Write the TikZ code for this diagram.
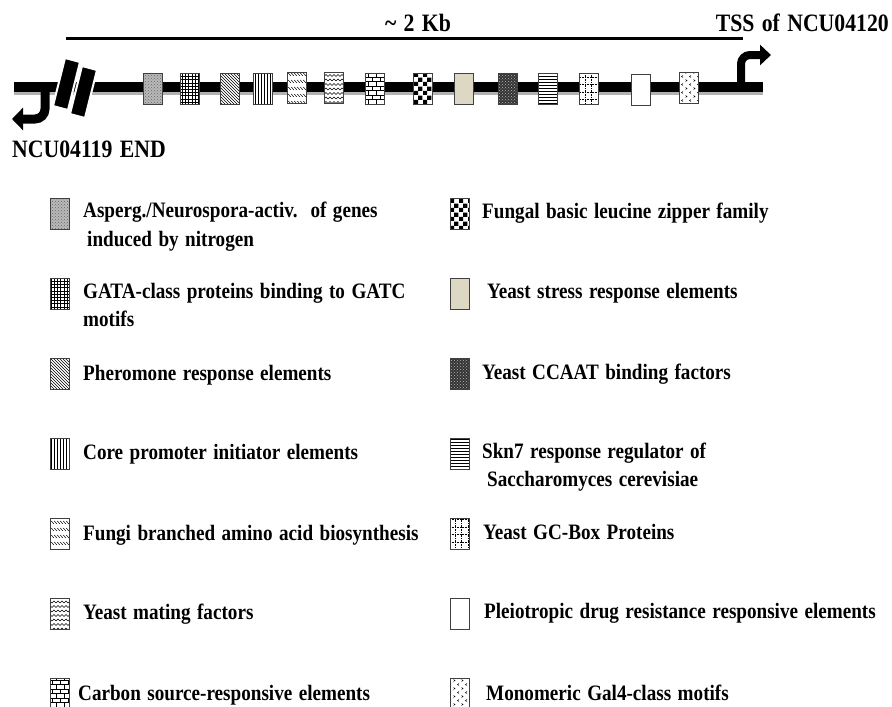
\documentclass[tikz,border=0pt]{standalone}
\usepackage{fontspec}
\setmainfont{Liberation Serif}[FakeStretch=0.87,WordSpace=1.35]
\usetikzlibrary{patterns,arrows.meta}

\pgfdeclarepatternformonly{pGrid}{\pgfpoint{-1pt}{-1pt}}{\pgfpoint{4pt}{4pt}}{\pgfpoint{3.2pt}{3.2pt}}{%
  \pgfsetlinewidth{0.7pt}%
  \pgfpathmoveto{\pgfpoint{-0.1pt}{0pt}}\pgfpathlineto{\pgfpoint{3.3pt}{0pt}}%
  \pgfpathmoveto{\pgfpoint{0pt}{-0.1pt}}\pgfpathlineto{\pgfpoint{0pt}{3.3pt}}%
  \pgfusepath{stroke}}
\pgfdeclarepatternformonly{pChecker}{\pgfpointorigin}{\pgfpoint{9pt}{9pt}}{\pgfpoint{9pt}{9pt}}{%
  \pgfpathrectangle{\pgfpointorigin}{\pgfpoint{4.5pt}{4.5pt}}%
  \pgfpathrectangle{\pgfpoint{4.5pt}{4.5pt}}{\pgfpoint{4.5pt}{4.5pt}}%
  \pgfusepath{fill}}
\pgfdeclarepatternformonly{pZig}{\pgfpoint{-0.5pt}{-0.5pt}}{\pgfpoint{4.5pt}{5pt}}{\pgfpoint{4pt}{4.5pt}}{%
  \pgfsetlinewidth{0.5pt}%
  \pgfpathmoveto{\pgfpoint{0pt}{0.5pt}}\pgfpathlineto{\pgfpoint{2pt}{2.5pt}}\pgfpathlineto{\pgfpoint{4pt}{0.5pt}}%
  \pgfusepath{stroke}}
\pgfdeclarepatternformonly{pBrick}{\pgfpoint{-0.5pt}{-0.5pt}}{\pgfpoint{8.5pt}{9.5pt}}{\pgfpoint{8pt}{9pt}}{%
  \pgfsetlinewidth{0.6pt}%
  \pgfpathmoveto{\pgfpoint{0pt}{0pt}}\pgfpathlineto{\pgfpoint{8pt}{0pt}}%
  \pgfpathmoveto{\pgfpoint{0pt}{4.5pt}}\pgfpathlineto{\pgfpoint{8pt}{4.5pt}}%
  \pgfpathmoveto{\pgfpoint{0pt}{0pt}}\pgfpathlineto{\pgfpoint{0pt}{4.5pt}}%
  \pgfpathmoveto{\pgfpoint{4pt}{4.5pt}}\pgfpathlineto{\pgfpoint{4pt}{9pt}}%
  \pgfusepath{stroke}}
\pgfdeclarepatternformonly{pDashDiag}{\pgfpoint{-0.5pt}{-0.5pt}}{\pgfpoint{3.5pt}{7.5pt}}{\pgfpoint{3pt}{7pt}}{%
  \pgfsetlinewidth{0.5pt}%
  \pgfpathmoveto{\pgfpoint{0.3pt}{4pt}}\pgfpathlineto{\pgfpoint{2.7pt}{1.2pt}}%
  \pgfusepath{stroke}}
\pgfdeclarepatternformonly{pDotGrid}{\pgfpoint{-0.5pt}{-0.5pt}}{\pgfpoint{7pt}{8pt}}{\pgfpoint{6.5pt}{7.5pt}}{%
  \pgfsetlinewidth{0.5pt}\pgfsetdash{{0.8pt}{0.8pt}}{0pt}%
  \pgfpathmoveto{\pgfpoint{0pt}{0pt}}\pgfpathlineto{\pgfpoint{6.5pt}{0pt}}%
  \pgfpathmoveto{\pgfpoint{0pt}{0pt}}\pgfpathlineto{\pgfpoint{0pt}{7.5pt}}%
  \pgfusepath{stroke}}
\pgfdeclarepatternformonly{pChev}{\pgfpoint{-0.5pt}{-0.5pt}}{\pgfpoint{8.5pt}{8.5pt}}{\pgfpoint{8pt}{8pt}}{%
  \pgfsetlinewidth{0.5pt}%
  \pgfpathmoveto{\pgfpoint{3pt}{7.5pt}}\pgfpathlineto{\pgfpoint{1.5pt}{6.5pt}}\pgfpathlineto{\pgfpoint{3pt}{5.5pt}}%
  \pgfpathmoveto{\pgfpoint{5.5pt}{3.5pt}}\pgfpathlineto{\pgfpoint{7pt}{2.5pt}}\pgfpathlineto{\pgfpoint{5.5pt}{1.5pt}}%
  \pgfusepath{stroke}}

\definecolor{beige}{HTML}{DDD8C3}

\tikzset{
  elem/.style={draw=black!75, line width=0.8pt, minimum width=19pt, minimum height=31pt, inner sep=0pt, outer sep=0pt},
  pbox/.style n args={3}{elem, fill=#1, postaction={pattern=#2, pattern color=#3}, postaction={draw=black!75, line width=0.8pt}},
  granite/.style={pbox={gray!55}{crosshatch dots}{black!60}},
  gridbox/.style={pbox={white}{pGrid}{black}},
  nwbox/.style={pbox={white}{north west lines}{black}},
  vertbox/.style={pbox={white}{vertical lines}{black}},
  dashbox/.style={pbox={white}{pDashDiag}{black}},
  zigbox/.style={pbox={white}{pZig}{black}},
  brickbox/.style={pbox={white}{pBrick}{black}},
  checkbox/.style={pbox={white}{pChecker}{black}},
  beigebox/.style={elem, fill=beige},
  ccaatbox/.style={pbox={black!80}{crosshatch dots}{gray!55}},
  horbox/.style={pbox={white}{horizontal lines}{black}},
  dotgridbox/.style={pbox={white}{pDotGrid}{black}},
  whitebox/.style={elem, fill=white},
  chevbox/.style={pbox={white}{pChev}{black}},
  leg/.style={anchor=base west, inner sep=0pt, font=\fontsize{22}{26}\selectfont\bfseries},
  hdr/.style={inner sep=0pt, font=\fontsize{25}{30}\selectfont\bfseries},
}

\begin{document}
\begin{tikzpicture}[x=1pt,y=-1pt]
\useasboundingbox (0,0) rectangle (892,707);

% scale bar
\coordinate (sbL) at (66,38);
\coordinate (sbR) at (743,38);
\draw[line width=3pt] (sbL) -- (sbR);
\node[hdr, anchor=base] (kb) at (418,31) {\textasciitilde\ 2 Kb};
\node[hdr, anchor=base east] (tss) at (889,31) {TSS of NCU04120};
\node[hdr, anchor=base west] (endlab) at (12,157) {NCU04119 END};

% DNA bar
\coordinate (barL) at (14,87);
\coordinate (barR) at (763,87);
\draw[line width=10pt, gray!60] ([yshift=-3pt]barL) -- ([yshift=-3pt]barR);
\draw[line width=10pt] (barL) -- (barR);

% left bent arrow (end of NCU04119)
\coordinate (lhook) at (45,87);
\coordinate (ltip) at (12,119);
\draw[line width=9pt, rounded corners=10pt, -{Triangle[length=11pt,width=22pt]}] (lhook) -- (45,119) -- (ltip);

% right bent arrow (TSS)
\coordinate (rhook) at (741,87);
\coordinate (rtip) at (771,55);
\draw[line width=8pt, rounded corners=9pt, -{Triangle[length=11pt,width=20pt]}] (rhook) -- (741,55) -- (rtip);

% break symbol
\fill[black, draw=white, line width=2pt] (65,58) -- (80,62) -- (68,110) -- (53,106) -- cycle;
\fill[black, draw=white, line width=2pt] (82,66) -- (97,70) -- (85,118) -- (70,114) -- cycle;

% elements on the bar
\node[granite]    (e1)  at (152.5,88.5) {};
\node[gridbox]    (e2)  at (189.5,88.5) {};
\node[nwbox]      (e3)  at (230,88.5) {};
\node[vertbox]    (e4)  at (263,88.5) {};
\node[dashbox]    (e5)  at (296.5,88) {};
\node[zigbox]     (e6)  at (333.5,88) {};
\node[brickbox]   (e7)  at (374.5,89) {};
\node[checkbox]   (e8)  at (422.5,89) {};
\node[beigebox]   (e9)  at (464,88.5) {};
\node[ccaatbox]   (e10) at (507.5,89) {};
\node[horbox]     (e11) at (548,89) {};
\node[dotgridbox] (e12) at (588.5,89) {};
\node[whitebox]   (e13) at (641,89.5) {};
\node[chevbox]    (e14) at (688.5,87.5) {};

% legend, left column
\node[granite]  (l1) at (59.5,214) {};
\node[leg] (t1a) at (83,217) {Asperg./Neurospora-activ.\ \ of genes};
\node[leg] (t1b) at (87,246) {induced by nitrogen};
\node[gridbox]  (l2) at (59.5,294) {};
\node[leg] (t2a) at (83,298) {GATA-class proteins binding to GATC};
\node[leg] (t2b) at (83,326) {motifs};
\node[nwbox]    (l3) at (59.5,374) {};
\node[leg] (t3) at (83,380) {Pheromone response elements};
\node[vertbox]  (l4) at (59.5,454) {};
\node[leg] (t4) at (83,459) {Core promoter initiator elements};
\node[dashbox]  (l5) at (59.5,534) {};
\node[leg] (t5) at (83,540) {Fungi branched amino acid biosynthesis};
\node[zigbox]   (l6) at (59.5,614) {};
\node[leg] (t6) at (83,619) {Yeast mating factors};
\node[brickbox] (l7) at (59.5,694) {};
\node[leg] (t7) at (78,700) {Carbon source-responsive elements};

% legend, right column
\node[checkbox]   (r1) at (459.5,214) {};
\node[leg] (s1) at (482,218) {Fungal basic leucine zipper family};
\node[beigebox]   (r2) at (459.5,294) {};
\node[leg] (s2) at (487,298) {Yeast stress response elements};
\node[ccaatbox]   (r3) at (459.5,374) {};
\node[leg] (s3) at (482,379) {Yeast CCAAT binding factors};
\node[horbox]     (r4) at (459.5,454) {};
\node[leg] (s4a) at (482,458) {Skn7 response regulator of};
\node[leg] (s4b) at (487,486) {Saccharomyces cerevisiae};
\node[dotgridbox] (r5) at (459.5,534) {};
\node[leg] (s5) at (483,539) {Yeast GC-Box Proteins};
\node[whitebox]   (r6) at (459.5,614) {};
\node[leg] (s6) at (484,618) {Pleiotropic drug resistance responsive elements};
\node[chevbox]    (r7) at (459.5,694) {};
\node[leg] (s7) at (486,700) {Monomeric Gal4-class motifs};
\end{tikzpicture}
\end{document}
